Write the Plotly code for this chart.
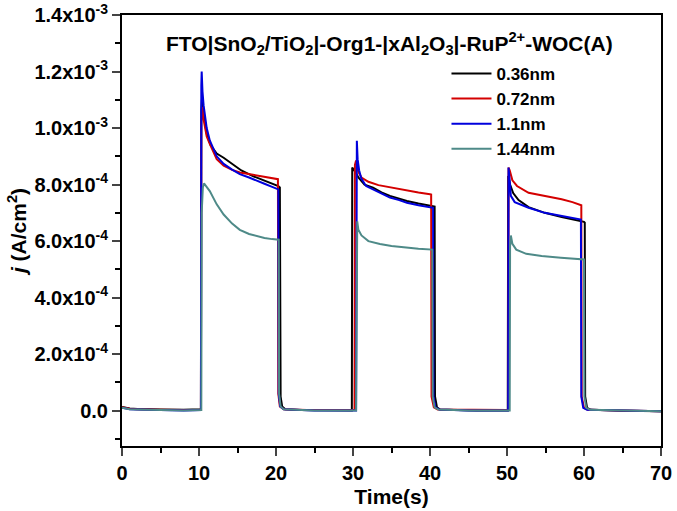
import plotly.graph_objects as go

# ---- data (current density in units of 1e-4 A/cm^2) ----
SCALE = 1e-4

t_036 = [0, 0.5, 1, 2, 3, 5, 8, 10.25, 10.3, 10.4, 10.6, 11.0, 11.5, 12.3, 13.2, 14.5, 15.5, 17.0, 18.5, 19.5,
         20.3, 20.5, 20.6, 20.8, 21.2, 23, 26, 29.85, 29.9, 30.3, 30.7, 31.5, 32.6, 33.7, 34.8, 36, 37, 38.5,
         40.0, 40.6, 40.65, 40.9, 41.3, 43, 46, 50.1, 50.15, 50.25, 50.4, 50.8, 51.5, 52.8, 54.9, 57.1, 59.0,
         60.0, 60.1, 60.15, 60.4, 60.9, 65, 70]
j_036 = [0.13, 0.10, 0.08, 0.06, 0.05, 0.04, 0.03, 0.05, 10.6, 11.1, 10.5, 9.8, 9.4, 9.1, 8.95, 8.7, 8.5, 8.3, 8.15, 8.05,
         7.95, 7.9, 0.5, 0.15, 0.05, 0.02, 0.01, 0.01, 8.6, 8.45, 8.25, 8.0, 7.89, 7.72, 7.6, 7.5, 7.42, 7.33,
         7.25, 7.22, 0.5, 0.12, 0.04, 0.02, 0.01, 0.01, 8.3, 8.2, 8.0, 7.7, 7.45, 7.2, 7.0, 6.85, 6.75,
         6.68, 6.65, 0.5, 0.1, 0.03, 0.0, -0.02]

t_072 = [0, 0.5, 1, 2, 3, 5, 8, 10.25, 10.3, 10.45, 10.6, 11.0, 11.4, 12.3, 13.2, 14.3, 15.3, 16.5, 17.5, 18.5,
         19.5, 20.25, 20.3, 20.5, 21, 24, 30.2, 30.25, 30.4, 30.7, 31.1, 32, 33.3, 34.8, 37, 38.5, 40.0, 40.15,
         40.2, 40.5, 41, 45, 50.15, 50.2, 50.35, 50.7, 51.3, 52.8, 54.9, 57.1, 58.5, 59.65, 59.7, 60.0, 60.5,
         65, 70]
j_072 = [0.12, 0.09, 0.07, 0.05, 0.04, 0.03, 0.02, 0.03, 10.2, 10.75, 10.3, 9.7, 9.44, 8.9, 8.67, 8.52, 8.43, 8.37, 8.31, 8.26,
         8.22, 8.19, 0.6, 0.15, 0.05, 0.02, 0.02, 8.7, 8.85, 8.45, 8.25, 8.1, 7.98, 7.9, 7.8, 7.72, 7.66, 7.65,
         0.5, 0.12, 0.04, 0.02, 0.02, 8.6, 8.5, 8.15, 7.95, 7.71, 7.6, 7.48, 7.38, 7.27, 0.5, 0.1, 0.03,
         0.0, -0.02]

t_110 = [0, 0.5, 1, 2, 3, 5, 8, 10.25, 10.3, 10.35, 10.45, 10.6, 11.0, 11.4, 12.3, 13.2, 14.3, 15.3, 16.5, 17.5,
         18.5, 19.5, 20.3, 20.35, 20.55, 21, 25, 30.4, 30.45, 30.5, 30.6, 30.8, 31.1, 31.7, 32.6, 33.7, 34.8, 36,
         37, 38.5, 40.4, 40.45, 40.7, 41.2, 45, 50.15, 50.2, 50.3, 50.5, 51.0, 52.8, 54.9, 57.1, 58.5, 59.6,
         59.65, 59.9, 60.4, 65, 70]
j_110 = [0.10, 0.07, 0.05, 0.04, 0.03, 0.02, 0.01, 0.02, 11.5, 12.0, 11.3, 10.8, 10.0, 9.56, 9.0, 8.73, 8.53, 8.37, 8.25, 8.15,
         8.03, 7.92, 7.83, 0.6, 0.15, 0.05, 0.01, 0.01, 9.0, 9.55, 8.9, 8.5, 8.2, 7.95, 7.83, 7.67, 7.54, 7.45,
         7.36, 7.27, 7.18, 0.5, 0.12, 0.04, 0.01, 0.01, 8.6, 8.3, 7.6, 7.38, 7.18, 7.0, 6.88, 6.8, 6.76,
         0.5, 0.1, 0.03, 0.0, -0.02]

t_144 = [0, 0.5, 1, 2, 3, 5, 8, 10.3, 10.35, 10.5, 10.65, 11.0, 11.4, 12.3, 13.2, 14.3, 15.3, 16.5, 17.5, 18.5,
         19.5, 20.35, 20.4, 20.6, 21, 25, 30.4, 30.45, 30.55, 30.7, 31.1, 32, 33.5, 35, 37, 38.5, 40.3, 40.35,
         40.6, 41.1, 45, 50.35, 50.4, 50.5, 50.7, 51.2, 52.5, 54.5, 57, 59, 60.0, 60.05, 60.3, 60.8, 65, 70]
j_144 = [0.10, 0.07, 0.05, 0.04, 0.03, 0.02, 0.01, 0.02, 7.0, 7.9, 8.04, 7.9, 7.77, 7.3, 6.94, 6.62, 6.4, 6.25, 6.17, 6.11,
         6.07, 6.05, 0.6, 0.15, 0.05, 0.01, 0.01, 6.0, 6.7, 6.4, 6.2, 6.0, 5.9, 5.83, 5.77, 5.73, 5.7, 0.5,
         0.12, 0.04, 0.01, 0.01, 5.8, 6.2, 5.9, 5.7, 5.55, 5.47, 5.41, 5.37, 5.35, 0.5, 0.1, 0.03, 0.0, -0.02]

series = [
    ("0.36nm", t_036, j_036, "#000000"),
    ("0.72nm", t_072, j_072, "#d40000"),
    ("1.1nm", t_110, j_110, "#0000dd"),
    ("1.44nm", t_144, j_144, "#4e8a88"),
]

y_tickvals = [0, 2e-4, 4e-4, 6e-4, 8e-4, 1.0e-3, 1.2e-3, 1.4e-3]
y_ticktext = ["0.0", "2.0x10<sup>-4</sup>", "4.0x10<sup>-4</sup>", "6.0x10<sup>-4</sup>", "8.0x10<sup>-4</sup>",
              "1.0x10<sup>-3</sup>", "1.2x10<sup>-3</sup>", "1.4x10<sup>-3</sup>"]
x_tickvals = [0, 10, 20, 30, 40, 50, 60, 70]

title_text = ("<b>FTO|SnO<sub>2</sub>/TiO<sub>2</sub>|-Org1-|xAl<sub>2</sub>O<sub>3</sub>|"
              "-RuP<sup>2+</sup>-WOC(A)</b>")

FONT = "Liberation Sans, Arial, sans-serif"

fig = go.Figure()
for name, t, j, color in series:
    fig.add_trace(go.Scatter(
        x=t, y=[v * SCALE for v in j], mode="lines", name=name,
        line=dict(color=color, width=2),
    ))

fig.update_layout(
    width=677, height=511,
    margin=dict(l=122, r=16, t=15, b=65),
    paper_bgcolor="white", plot_bgcolor="white",
    font=dict(family=FONT, color="black", size=18),
    legend=dict(
        x=0.602, y=0.905, xanchor="left", yanchor="top",
        bgcolor="rgba(0,0,0,0)", borderwidth=0,
        font=dict(family=FONT, size=17, weight="bold"),
        itemwidth=40, tracegroupgap=0,
    ),
    annotations=[dict(
        text=title_text, x=0.497, y=0.935, xref="paper", yref="paper",
        xanchor="center", yanchor="middle", showarrow=False,
        font=dict(family=FONT, size=21, color="black"),
    )],
)

fig.update_xaxes(
    range=[0, 70], tickvals=x_tickvals, ticks="outside", ticklen=8, tickwidth=2,
    showline=True, linewidth=2, linecolor="black", mirror=True,
    showgrid=False, zeroline=False, automargin=False, ticklabeloverflow="allow",
    tickfont=dict(family=FONT, size=20, weight="bold"),
    minor=dict(tickvals=[5, 15, 25, 35, 45, 55, 65], ticks="outside", ticklen=5, tickwidth=2, tickcolor="black"),
    title=dict(text="<b>Time(s)</b>", font=dict(family=FONT, size=21), standoff=6),
)
fig.update_yaxes(
    range=[-1.25e-4, 1.4e-3], tickvals=y_tickvals, ticktext=y_ticktext, ticks="outside", ticklen=8, tickwidth=2,
    showline=True, linewidth=2, linecolor="black", mirror=True,
    showgrid=False, zeroline=False, automargin=False, ticklabeloverflow="allow",
    tickfont=dict(family=FONT, size=20, weight="bold"),
    minor=dict(tickvals=[-1e-4, 1e-4, 3e-4, 5e-4, 7e-4, 9e-4, 1.1e-3, 1.3e-3], ticks="outside", ticklen=5,
               tickwidth=2, tickcolor="black"),
    title=dict(text="<b><i>j</i> (A/cm<sup>2</sup>)</b>", font=dict(family=FONT, size=21), standoff=2),
)

# remove the browser's default page margin so the figure fills the window exactly
fig.write_html("out.html", config={"displayModeBar": False},
               post_script="document.body.style.margin='0';")
